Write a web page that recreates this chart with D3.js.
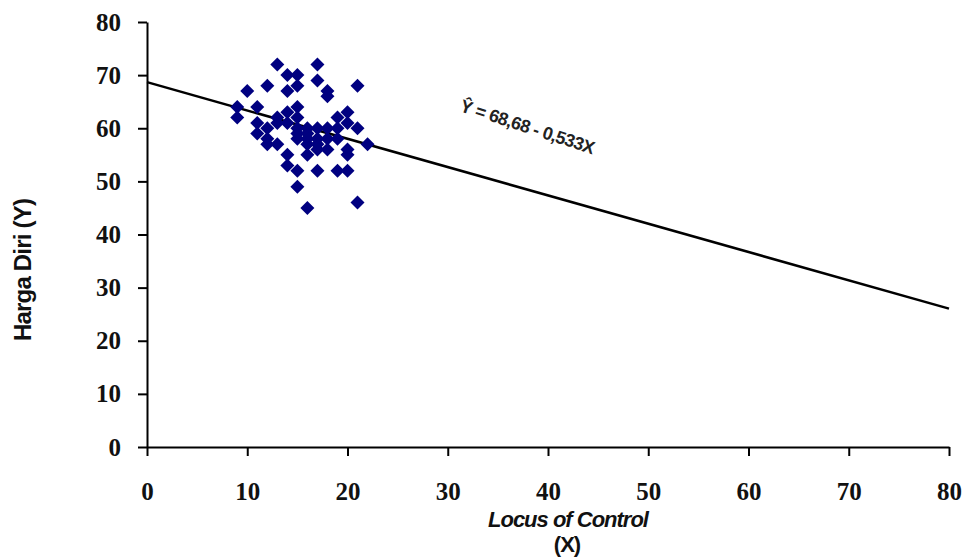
<!DOCTYPE html>
<html>
<head>
<meta charset="utf-8">
<script src="https://cdn.jsdelivr.net/npm/d3@7"></script>
<style>
    body { margin: 0; background: #fff; }
    svg { display: block; }
</style>
</head>
<body>
<div id="chart"></div>
<script>
// Locus of Control (X) scores
var locusX = [9, 9, 10, 11, 11, 11, 12, 12, 12, 12, 13, 13, 13, 13, 14, 14, 14, 14, 14, 14,
    15, 15, 15, 15, 15, 15, 15, 15, 15, 16, 16, 16, 16, 16, 16, 17, 17, 17, 17, 17, 17, 17,
    18, 18, 18, 18, 18, 19, 19, 19, 19, 20, 20, 20, 20, 20, 21, 21, 21, 22];
// Harga Diri (Y) scores
var hargaY = [64, 62, 67, 64, 61, 59, 68, 60, 58, 57, 72, 62, 61, 57, 70, 67, 63, 61, 55, 53,
    70, 68, 64, 62, 60, 59, 58, 52, 49, 60, 59, 58, 57, 55, 45, 72, 69, 60, 58, 57, 56, 52,
    67, 66, 60, 58, 56, 62, 60, 58, 52, 63, 61, 56, 55, 52, 68, 60, 46, 57];

var intercept = 68.68;
var slope = -0.533;

var xTicks = [0, 10, 20, 30, 40, 50, 60, 70, 80];
var yTicks = [0, 10, 20, 30, 40, 50, 60, 70, 80];

var width = 964, height = 559;
var margin = { left: 147, right: 15, top: 22, bottom: 112 };

var svg = d3.select("#chart").append("svg")
    .attr("width", width)
    .attr("height", height);

var x = d3.scaleLinear().domain([0, 80]).range([margin.left, width - margin.right]);
var y = d3.scaleLinear().domain([0, 80]).range([height - margin.bottom, margin.top]);

// axes
var xAxis = svg.append("g")
    .attr("transform", "translate(0," + y(0) + ")")
    .call(d3.axisBottom(x).tickValues(xTicks).tickSize(9).tickPadding(26).tickSizeOuter(0));

var yAxis = svg.append("g")
    .attr("transform", "translate(" + x(0) + ",0)")
    .call(d3.axisLeft(y).tickValues(yTicks).tickSize(9).tickPadding(17).tickSizeOuter(0));

[xAxis, yAxis].forEach(function (g) {
    g.select(".domain").attr("stroke", "#000").attr("stroke-width", 2);
    g.selectAll(".tick line").attr("stroke", "#000").attr("stroke-width", 2);
    g.selectAll(".tick text")
        .attr("fill", "#111")
        .style("font-family", "'Liberation Serif', 'Times New Roman', serif")
        .style("font-weight", "bold")
        .style("font-size", "25px");
});

// regression line
svg.append("line")
    .attr("x1", x(0))
    .attr("y1", y(intercept))
    .attr("x2", x(80))
    .attr("y2", y(intercept + slope * 80))
    .attr("stroke", "#000")
    .attr("stroke-width", 2.5);

// points
var diamond = d3.symbol().type(d3.symbolSquare).size(98);
svg.append("g").selectAll("path")
    .data(locusX.map(function (d, i) { return [d, hargaY[i]]; }))
    .join("path")
    .attr("d", diamond)
    .attr("transform", function (d) { return "translate(" + x(d[0]) + "," + y(d[1]) + ") rotate(45)"; })
    .attr("fill", "#000080");

// equation label
svg.append("text")
    .attr("transform", "translate(" + 459 + "," + 111 + ") rotate(18)")
    .style("font-family", "'Liberation Sans', Arial, sans-serif")
    .style("font-weight", "bold")
    .style("font-size", "18px")
    .style("letter-spacing", "-0.6px")
    .attr("fill", "#222")
    .text("Ŷ = 68,68 - 0,533X");

// axis titles
var xTitle = svg.append("text")
    .attr("text-anchor", "middle")
    .style("font-family", "'Liberation Sans', Arial, sans-serif")
    .style("font-weight", "bold")
    .style("font-style", "italic")
    .style("font-size", "22px")
    .style("letter-spacing", "-1px")
    .attr("fill", "#111");
xTitle.append("tspan").attr("x", 568).attr("y", 527).text("Locus of Control");
xTitle.append("tspan").attr("x", 567).attr("y", 552).style("font-style", "normal").text("(X)");

svg.append("text")
    .attr("transform", "translate(31,270) rotate(-90)")
    .attr("text-anchor", "middle")
    .style("font-family", "'Liberation Sans', Arial, sans-serif")
    .style("font-weight", "bold")
    .style("font-size", "24px")
    .style("letter-spacing", "-0.8px")
    .attr("fill", "#111")
    .text("Harga Diri  (Y)");
</script>
</body>
</html>
